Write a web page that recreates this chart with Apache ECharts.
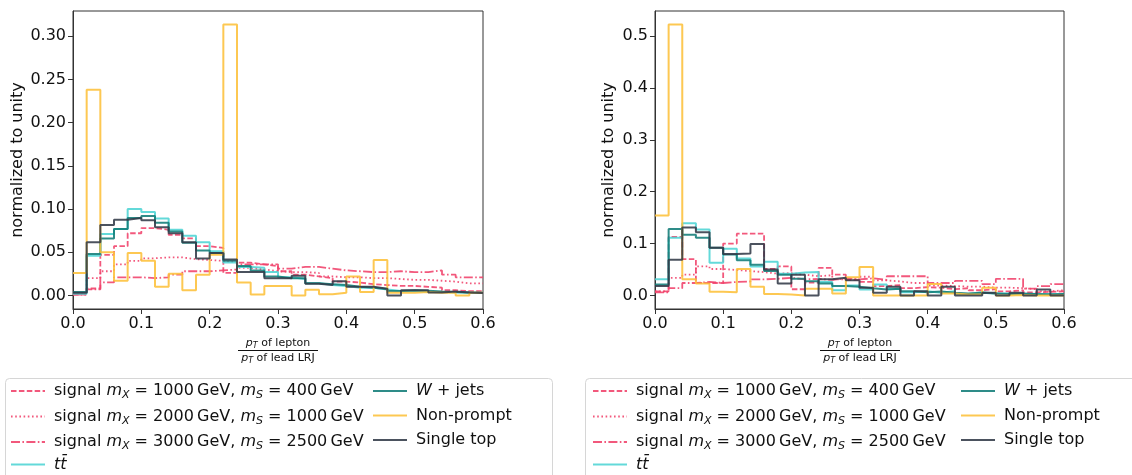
<!DOCTYPE html>
<html>
<head>
<meta charset="utf-8">
<script src="https://cdn.jsdelivr.net/npm/echarts@6/dist/echarts.min.js"></script>
<style>
  html, body { margin: 0; padding: 0; background: #fff; }
  #chart { width: 1132px; height: 475px; }
</style>
</head>
<body>
<div id="chart"></div>
<script>
// Bin edges of the lepton / leading large-R jet pT ratio (30 bins of 0.02)
const binEdges = [0.00, 0.02, 0.04, 0.06, 0.08, 0.10, 0.12, 0.14, 0.16, 0.18, 0.20,
                  0.22, 0.24, 0.26, 0.28, 0.30, 0.32, 0.34, 0.36, 0.38, 0.40,
                  0.42, 0.44, 0.46, 0.48, 0.50, 0.52, 0.54, 0.56, 0.58, 0.60];

const xTicks = [0.0, 0.1, 0.2, 0.3, 0.4, 0.5, 0.6];
const yTicksLeft = [0.00, 0.05, 0.10, 0.15, 0.20, 0.25, 0.30];
const yTicksRight = [0.0, 0.1, 0.2, 0.3, 0.4, 0.5];

// Left panel: normalized bin contents
const sig1000Left = [0.001, 0.008, 0.047, 0.057, 0.072, 0.078, 0.076, 0.070, 0.066, 0.057, 0.055, 0.026, 0.038, 0.036, 0.034,
                     0.028, 0.024, 0.022, 0.020, 0.016, 0.015, 0.013, 0.012, 0.011, 0.011, 0.010, 0.009, 0.006, 0.005, 0.005];
const sig2000Left = [0.003, 0.020, 0.028, 0.036, 0.040, 0.043, 0.044, 0.044, 0.042, 0.041, 0.040, 0.038, 0.032, 0.030, 0.028,
                     0.027, 0.027, 0.026, 0.022, 0.021, 0.021, 0.020, 0.020, 0.019, 0.018, 0.018, 0.017, 0.016, 0.014, 0.014];
const sig3000Left = [0.001, 0.007, 0.015, 0.021, 0.021, 0.020, 0.021, 0.024, 0.028, 0.028, 0.029, 0.030, 0.036, 0.036, 0.036,
                     0.031, 0.033, 0.033, 0.031, 0.029, 0.028, 0.027, 0.027, 0.028, 0.027, 0.027, 0.029, 0.024, 0.021, 0.021];
const ttbarLeft = [0.002, 0.046, 0.071, 0.077, 0.100, 0.0965, 0.089, 0.076, 0.069, 0.0615, 0.051, 0.038, 0.033, 0.032, 0.027,
                   0.021, 0.019, 0.014, 0.012, 0.011, 0.009, 0.009, 0.007, 0.005, 0.005, 0.004, 0.004, 0.0035, 0.003, 0.003];
const wjetsLeft = [0.004, 0.048, 0.066, 0.077, 0.0896, 0.092, 0.084, 0.074, 0.061, 0.052, 0.049, 0.040, 0.034, 0.029, 0.022,
                   0.020, 0.020, 0.014, 0.013, 0.012, 0.010, 0.009, 0.0075, 0.005, 0.006, 0.0055, 0.0045, 0.004, 0.0035, 0.003];
const nonPromptLeft = [0.026, 0.238, 0.050, 0.017, 0.049, 0.040, 0.010, 0.025, 0.006, 0.024, 0.047, 0.3135, 0.015, 0.001, 0.011,
                       0.011, 0.0, 0.0065, 0.0015, 0.003, 0.022, 0.004, 0.041, 0.003, 0.003, 0.004, 0.003, 0.003, 0.0, 0.003];
const singleTopLeft = [0.003, 0.0615, 0.0815, 0.0877, 0.0896, 0.087, 0.079, 0.072, 0.0615, 0.0427, 0.049, 0.0415, 0.027, 0.027, 0.020,
                       0.020, 0.0227, 0.0135, 0.012, 0.0165, 0.010, 0.010, 0.0077, 0.0, 0.006, 0.006, 0.0035, 0.0046, 0.0035, 0.0027];

// Right panel: normalized bin contents
const sig1000Right = [0.008, 0.113, 0.070, 0.024, 0.024, 0.100, 0.119, 0.119, 0.051, 0.056, 0.012, 0.025, 0.053, 0.040, 0.030,
                      0.026, 0.018, 0.020, 0.014, 0.016, 0.015, 0.012, 0.014, 0.010, 0.012, 0.008, 0.010, 0.006, 0.007, 0.008];
const sig2000Right = [0.008, 0.034, 0.040, 0.056, 0.051, 0.049, 0.047, 0.045, 0.042, 0.043, 0.040, 0.037, 0.039, 0.031, 0.031,
                      0.036, 0.029, 0.027, 0.024, 0.024, 0.019, 0.018, 0.017, 0.017, 0.015, 0.015, 0.014, 0.012, 0.008, 0.010];
const sig3000Right = [0.006, 0.014, 0.024, 0.026, 0.024, 0.026, 0.027, 0.031, 0.032, 0.034, 0.031, 0.032, 0.030, 0.033, 0.031,
                      0.033, 0.030, 0.037, 0.037, 0.037, 0.024, 0.024, 0.028, 0.028, 0.022, 0.032, 0.032, 0.013, 0.018, 0.022];
const ttbarRight = [0.031, 0.111, 0.139, 0.127, 0.063, 0.090, 0.071, 0.056, 0.065, 0.042, 0.044, 0.045, 0.026, 0.010, 0.019,
                    0.0115, 0.021, 0.013, 0.0064, 0.008, 0.005, 0.008, 0.003, 0.006, 0.004, 0.004, 0.0026, 0.0026, 0.0026, 0.0026];
const wjetsRight = [0.021, 0.128, 0.117, 0.111, 0.092, 0.079, 0.068, 0.059, 0.047, 0.040, 0.032, 0.0275, 0.023, 0.018, 0.0167,
                    0.014, 0.0115, 0.013, 0.008, 0.0064, 0.0077, 0.005, 0.004, 0.005, 0.004, 0.0026, 0.004, 0.0026, 0.002, 0.0026];
const nonPromptRight = [0.154, 0.522, 0.031, 0.023, 0.007, 0.0064, 0.051, 0.0167, 0.0026, 0.002, 0.0, 0.013, 0.013, 0.004, 0.035,
                        0.055, 0.0, 0.0, 0.0, 0.0, 0.022, 0.004, 0.002, 0.002, 0.015, 0.0, 0.001, 0.0, 0.0, 0.0];
const singleTopRight = [0.018, 0.069, 0.131, 0.122, 0.092, 0.080, 0.081, 0.099, 0.050, 0.023, 0.040, 0.0, 0.031, 0.034, 0.0295,
                        0.015, 0.005, 0.0167, 0.0, 0.008, 0.0, 0.0167, 0.0, 0.0, 0.005, 0.0, 0.005, 0.0, 0.0115, 0.0];

const seriesNames = ['signal 1000/400', 'signal 2000/1000', 'signal 3000/2500', 'ttbar', 'W+jets', 'Non-prompt', 'Single top'];

const FONT = 'DejaVu Sans';
const RED = '#f0416a';
const styles = {
  'signal 1000/400':  { color: RED, width: 1.8, type: [5.5, 2.4] },
  'signal 2000/1000': { color: RED, width: 1.8, type: [1.6, 2.6] },
  'signal 3000/2500': { color: RED, width: 1.8, type: [9, 2.4, 1.6, 2.4] },
  'ttbar':            { color: '#4dd4d4', width: 2, type: 'solid' },
  'W+jets':           { color: '#117c77', width: 2, type: 'solid' },
  'Non-prompt':       { color: '#fdc03a', width: 2, type: 'solid' },
  'Single top':       { color: '#323a48', width: 2, type: 'solid' }
};

const legendText = {
  'signal 1000/400':  'signal {i|m}{sub|X}{t| = 1000\u2009GeV, }{i|m}{sub|S}{t| = 400\u2009GeV}',
  'signal 2000/1000': 'signal {i|m}{sub|X}{t| = 2000\u2009GeV, }{i|m}{sub|S}{t| = 1000\u2009GeV}',
  'signal 3000/2500': 'signal {i|m}{sub|X}{t| = 3000\u2009GeV, }{i|m}{sub|S}{t| = 2500\u2009GeV}',
  'ttbar':            '{i|tt\u0304}',
  'W+jets':           '{i|W}{t| + jets}',
  'Non-prompt':       'Non-prompt',
  'Single top':       'Single top'
};

// Histogram as a step line: one point per left bin edge, last value repeated at the right edge
function stepData(values) {
  return binEdges.map((x, i) => [x, values[Math.min(i, values.length - 1)]]);
}

const panelData = [
  [sig1000Left, sig2000Left, sig3000Left, ttbarLeft, wjetsLeft, nonPromptLeft, singleTopLeft],
  [sig1000Right, sig2000Right, sig3000Right, ttbarRight, wjetsRight, nonPromptRight, singleTopRight]
];

const series = [];
panelData.forEach((arrays, p) => {
  arrays.forEach((vals, k) => {
    const name = seriesNames[k];
    const st = styles[name];
    series.push({
      name: name,
      type: 'line',
      xAxisIndex: p,
      yAxisIndex: p,
      step: 'end',
      symbol: 'none',
      showSymbol: false,
      animation: false,
      z: 2 + k,
      lineStyle: { color: st.color, width: st.width, type: st.type, opacity: 0.88, cap: 'butt' },
      itemStyle: { color: st.color },
      data: stepData(vals)
    });
  });
});

const grids = [
  { left: 73, top: 11, width: 410, height: 298 },
  { left: 655, top: 11, width: 409, height: 298 }
];

const richText = {
  t: { fontFamily: FONT, fontSize: 16, color: '#111' },
  i: { fontFamily: FONT, fontSize: 16, fontStyle: 'italic', color: '#111' },
  sub: { fontFamily: FONT, fontSize: 11, fontStyle: 'italic', color: '#111', padding: [9, 0, 0, 0] }
};

function xAxis(idx) {
  return {
    type: 'value', gridIndex: idx, min: 0, max: 0.6, interval: 0.1,
    axisLine: { show: true, onZero: false, lineStyle: { color: '#333', width: 1 } },
    axisTick: { show: true, length: 5, inside: false, lineStyle: { color: '#333' } },
    axisLabel: { color: '#111', fontFamily: FONT, fontSize: 16, margin: 7, formatter: v => v.toFixed(1),
                 customValues: xTicks },
    splitLine: { show: false }
  };
}

function yAxis(idx, min, max, ticks, digits, gap) {
  return {
    type: 'value', gridIndex: idx, min: min, max: max,
    name: 'normalized to unity', nameLocation: 'middle', nameGap: gap,
    nameTextStyle: { color: '#111', fontFamily: FONT, fontSize: 16 },
    axisLine: { show: true, onZero: false, lineStyle: { color: '#333', width: 1 } },
    axisTick: { show: true, length: 5, inside: false, lineStyle: { color: '#333' }, customValues: ticks },
    axisLabel: { color: '#111', fontFamily: FONT, fontSize: 16, margin: 7,
                 formatter: v => v.toFixed(digits), customValues: ticks },
    splitLine: { show: false }
  };
}

// Legend rows are 24.5 px apart; each block of rows is its own legend
const ROW0 = 382;
function legend(left, row, names) {
  return {
    orient: 'vertical', left: left, top: ROW0 + row * 24.5, padding: 0,
    itemWidth: 34, itemHeight: 14, itemGap: 6.5,
    data: names,
    selectedMode: false,
    itemStyle: { opacity: 0, borderWidth: 0 },
    formatter: name => legendText[name],
    textStyle: { fontFamily: FONT, fontSize: 16, color: '#111', lineHeight: 18, padding: [0, 0, 0, 4], rich: richText }
  };
}

const fracRich = {
  i: { fontFamily: FONT, fontSize: 11, fontStyle: 'italic', fill: '#111' },
  s: { fontFamily: FONT, fontSize: 8, fontStyle: 'italic', fill: '#111', padding: [5, 0, 0, 0] },
  t: { fontFamily: FONT, fontSize: 11, fill: '#111' }
};

function fraction(cx) {
  return [
    { type: 'text', x: cx, y: 343, style: { text: '{i|p}{s|T}{t| of lepton}', align: 'center', verticalAlign: 'middle', rich: fracRich } },
    { type: 'line', shape: { x1: cx - 40, y1: 350.5, x2: cx + 40, y2: 350.5 }, style: { stroke: '#111', lineWidth: 1 } },
    { type: 'text', x: cx, y: 358, style: { text: '{i|p}{s|T}{t| of lead LRJ}', align: 'center', verticalAlign: 'middle', rich: fracRich } }
  ];
}

const chart = echarts.init(document.getElementById('chart'), null, { renderer: 'canvas' });
chart.setOption({
  backgroundColor: '#fff',
  animation: false,
  grid: grids.map(g => Object.assign({ show: true, borderColor: '#333', borderWidth: 1, backgroundColor: 'transparent' }, g)),
  xAxis: [xAxis(0), xAxis(1)],
  yAxis: [
    yAxis(0, -0.0157, 0.3292, yTicksLeft, 2, 47),
    yAxis(1, -0.0261, 0.5481, yTicksRight, 1, 38)
  ],
  legend: [
    legend(10, 0, seriesNames.slice(0, 3)),
    legend(10, 3, seriesNames.slice(3, 4)),
    legend(372, 0, seriesNames.slice(4)),
    legend(592, 0, seriesNames.slice(0, 3)),
    legend(592, 3, seriesNames.slice(3, 4)),
    legend(960, 0, seriesNames.slice(4))
  ],
  graphic: [
    { type: 'rect', z: -1, shape: { x: 5.5, y: 378.5, width: 547, height: 110, r: 4 }, style: { fill: '#fff', stroke: '#d6d6d6', lineWidth: 1 } },
    { type: 'rect', z: -1, shape: { x: 585.5, y: 378.5, width: 560, height: 110, r: 4 }, style: { fill: '#fff', stroke: '#d6d6d6', lineWidth: 1 } }
  ].concat(fraction(278), fraction(860)),
  series: series
});
</script>
</body>
</html>
